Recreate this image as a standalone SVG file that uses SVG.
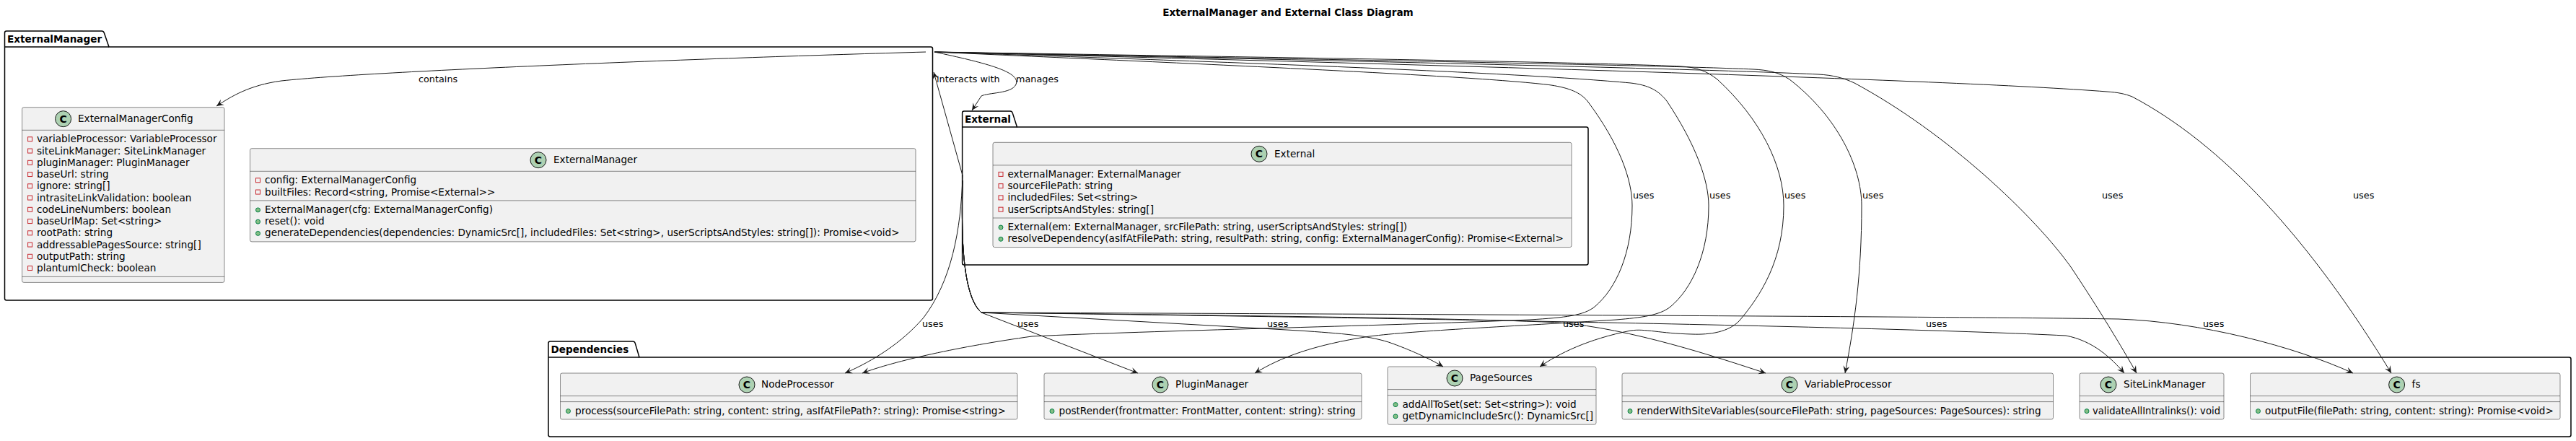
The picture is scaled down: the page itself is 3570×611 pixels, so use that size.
<svg xmlns="http://www.w3.org/2000/svg" width="3570" height="611" viewBox="0 0 3570 611">
<style>
text{font-family:"DejaVu Sans","Liberation Sans",sans-serif;fill:#000}
.t{font-size:13.6px}
.b{font-size:13.6px;font-weight:bold}
.lbl{font-size:12.8px}
.pkg{fill:none;stroke:#000;stroke-width:1.5}
.cls{fill:#F1F1F1;stroke:#181818;stroke-width:0.5}
.sep{stroke:#181818;stroke-width:0.5}
.ci{fill:#ADD1B2;stroke:#181818;stroke-width:1}
.cc{font-size:14px;font-weight:bold;text-anchor:middle}
.pv{fill:none;stroke:#C82930;stroke-width:1}
.pb{fill:#84BE84;stroke:#038048;stroke-width:1}
.e{fill:none;stroke:#181818;stroke-width:1;marker-end:url(#arr)}
</style>
<defs>
<marker id="arr" markerUnits="userSpaceOnUse" markerWidth="12" markerHeight="12" viewBox="-11 -6 12 12" refX="0" refY="0" orient="auto">
<path d="M0,0 L-10,-4.5 L-6,0 L-10,4.5 Z" fill="#181818"/>
</marker>
</defs>
<rect width="3570" height="611" fill="#FFFFFF"/>
<text class="b" x="1785" y="22" text-anchor="middle">ExternalManager and External Class Diagram</text>

<g id="pkg-ExternalManager">
<path class="pkg" d="M9,43 L141,43 Q143.5,43 144.3,45.4 L151,65 L1290,65 Q1292.5,65 1292.5,67.5 L1292.5,413.5 Q1292.5,416 1290,416 L9,416 Q6.5,416 6.5,413.5 L6.5,45.5 Q6.5,43 9,43 Z"/>
<line class="pkg" x1="6.5" y1="65" x2="151" y2="65"/>
<text class="b" x="10" y="58.5">ExternalManager</text>
</g>

<g id="pkg-External">
<path class="pkg" d="M1336,154 L1400,154 Q1402.5,154 1403.2,156.4 L1409.5,176 L2198.5,176 Q2201,176 2201,178.5 L2201,364.5 Q2201,367 2198.5,367 L1336,367 Q1333.6,367 1333.6,364.5 L1333.6,156.5 Q1333.6,154 1336,154 Z"/>
<line class="pkg" x1="1333.6" y1="176" x2="1409.5" y2="176"/>
<text class="b" x="1337" y="169.5">External</text>
</g>

<g id="pkg-Dependencies">
<path class="pkg" d="M762.5,473 L877,473 Q879.5,473 880.2,475.4 L886,495 L3560.5,495 Q3563,495 3563,497.5 L3563,602.5 Q3563,605 3560.5,605 L762.5,605 Q760,605 760,602.5 L760,475.5 Q760,473 762.5,473 Z"/>
<line class="pkg" x1="760" y1="495" x2="886" y2="495"/>
<text class="b" x="763.5" y="488.5">Dependencies</text>
</g>

<g id="ExternalManagerConfig">
<rect class="cls" x="30.6" y="148.7" width="280.4" height="242.7" rx="2.5"/>
<ellipse class="ci" cx="87.6" cy="164.7" rx="11" ry="11"/>
<text class="cc" x="87.6" y="169.7">C</text>
<text class="t" x="108" y="168.5">ExternalManagerConfig</text>
<line class="sep" x1="30.6" y1="180.3" x2="311" y2="180.3"/>
<rect class="pv" x="38.6" y="189.8" width="6" height="6"/><text class="t" x="51" y="197.3">variableProcessor: VariableProcessor</text>
<rect class="pv" x="38.6" y="206.05" width="6" height="6"/><text class="t" x="51" y="213.55">siteLinkManager: SiteLinkManager</text>
<rect class="pv" x="38.6" y="222.3" width="6" height="6"/><text class="t" x="51" y="229.8">pluginManager: PluginManager</text>
<rect class="pv" x="38.6" y="238.55" width="6" height="6"/><text class="t" x="51" y="246.05">baseUrl: string</text>
<rect class="pv" x="38.6" y="254.8" width="6" height="6"/><text class="t" x="51" y="262.3">ignore: string[]</text>
<rect class="pv" x="38.6" y="271.05" width="6" height="6"/><text class="t" x="51" y="278.55">intrasiteLinkValidation: boolean</text>
<rect class="pv" x="38.6" y="287.3" width="6" height="6"/><text class="t" x="51" y="294.8">codeLineNumbers: boolean</text>
<rect class="pv" x="38.6" y="303.55" width="6" height="6"/><text class="t" x="51" y="311.05">baseUrlMap: Set&lt;string&gt;</text>
<rect class="pv" x="38.6" y="319.8" width="6" height="6"/><text class="t" x="51" y="327.3">rootPath: string</text>
<rect class="pv" x="38.6" y="336.05" width="6" height="6"/><text class="t" x="51" y="343.55">addressablePagesSource: string[]</text>
<rect class="pv" x="38.6" y="352.3" width="6" height="6"/><text class="t" x="51" y="359.8">outputPath: string</text>
<rect class="pv" x="38.6" y="368.55" width="6" height="6"/><text class="t" x="51" y="376.05">plantumlCheck: boolean</text>
<line class="sep" x1="30.6" y1="383.4" x2="311" y2="383.4"/>
</g>

<g id="ExternalManager">
<rect class="cls" x="346.5" y="205.7" width="922.5" height="129.2" rx="2.5"/>
<ellipse class="ci" cx="746" cy="221.7" rx="11" ry="11"/>
<text class="cc" x="746" y="226.7">C</text>
<text class="t" x="767" y="225.5">ExternalManager</text>
<line class="sep" x1="346.5" y1="237.3" x2="1269" y2="237.3"/>
<rect class="pv" x="354.5" y="246.8" width="6" height="6"/><text class="t" x="367" y="254.3">config: ExternalManagerConfig</text>
<rect class="pv" x="354.5" y="263.05" width="6" height="6"/><text class="t" x="367" y="270.55">builtFiles: Record&lt;string, Promise&lt;External&gt;&gt;</text>
<line class="sep" x1="346.5" y1="277.9" x2="1269" y2="277.9"/>
<circle class="pb" cx="357.5" cy="290.9" r="3"/><text class="t" x="367" y="294.9">ExternalManager(cfg: ExternalManagerConfig)</text>
<circle class="pb" cx="357.5" cy="307.15" r="3"/><text class="t" x="367" y="311.15">reset(): void</text>
<circle class="pb" cx="357.5" cy="323.4" r="3"/><text class="t" x="367" y="327.4">generateDependencies(dependencies: DynamicSrc[], includedFiles: Set&lt;string&gt;, userScriptsAndStyles: string[]): Promise&lt;void&gt;</text>
</g>

<g id="External">
<rect class="cls" x="1376" y="197.3" width="802" height="145.3" rx="2.5"/>
<ellipse class="ci" cx="1745" cy="213.3" rx="11" ry="11"/>
<text class="cc" x="1745" y="218.3">C</text>
<text class="t" x="1766" y="217.5">External</text>
<line class="sep" x1="1376" y1="228.9" x2="2178" y2="228.9"/>
<rect class="pv" x="1384" y="238.4" width="6" height="6"/><text class="t" x="1396.5" y="245.9">externalManager: ExternalManager</text>
<rect class="pv" x="1384" y="254.65" width="6" height="6"/><text class="t" x="1396.5" y="262.15">sourceFilePath: string</text>
<rect class="pv" x="1384" y="270.9" width="6" height="6"/><text class="t" x="1396.5" y="278.4">includedFiles: Set&lt;string&gt;</text>
<rect class="pv" x="1384" y="287.15" width="6" height="6"/><text class="t" x="1396.5" y="294.65">userScriptsAndStyles: string[]</text>
<line class="sep" x1="1376" y1="302" x2="2178" y2="302"/>
<circle class="pb" cx="1387" cy="315" r="3"/><text class="t" x="1396.5" y="319">External(em: ExternalManager, srcFilePath: string, userScriptsAndStyles: string[])</text>
<circle class="pb" cx="1387" cy="331.25" r="3"/><text class="t" x="1396.5" y="335.25">resolveDependency(asIfAtFilePath: string, resultPath: string, config: ExternalManagerConfig): Promise&lt;External&gt;</text>
</g>

<g id="NodeProcessor">
<rect class="cls" x="776.5" y="517" width="633.5" height="64" rx="2.5"/>
<ellipse class="ci" cx="1035" cy="533" rx="11" ry="11"/>
<text class="cc" x="1035" y="538">C</text>
<text class="t" x="1055" y="537">NodeProcessor</text>
<line class="sep" x1="776.5" y1="548.6" x2="1410" y2="548.6"/>
<line class="sep" x1="776.5" y1="556.6" x2="1410" y2="556.6"/>
<circle class="pb" cx="787.5" cy="569.6" r="3"/><text class="t" x="797" y="573.6">process(sourceFilePath: string, content: string, asIfAtFilePath?: string): Promise&lt;string&gt;</text>
</g>

<g id="PluginManager">
<rect class="cls" x="1447" y="517" width="440" height="64" rx="2.5"/>
<ellipse class="ci" cx="1608" cy="533" rx="11" ry="11"/>
<text class="cc" x="1608" y="538">C</text>
<text class="t" x="1629" y="537">PluginManager</text>
<line class="sep" x1="1447" y1="548.6" x2="1887" y2="548.6"/>
<line class="sep" x1="1447" y1="556.6" x2="1887" y2="556.6"/>
<circle class="pb" cx="1458" cy="569.6" r="3"/><text class="t" x="1467.5" y="573.6">postRender(frontmatter: FrontMatter, content: string): string</text>
</g>

<g id="PageSources">
<rect class="cls" x="1923" y="508" width="289" height="80.2" rx="2.5"/>
<ellipse class="ci" cx="2016" cy="524" rx="11" ry="11"/>
<text class="cc" x="2016" y="529">C</text>
<text class="t" x="2037" y="528">PageSources</text>
<line class="sep" x1="1923" y1="539.6" x2="2212" y2="539.6"/>
<line class="sep" x1="1923" y1="547.6" x2="2212" y2="547.6"/>
<circle class="pb" cx="1934" cy="560.6" r="3"/><text class="t" x="1943.5" y="564.6">addAllToSet(set: Set&lt;string&gt;): void</text>
<circle class="pb" cx="1934" cy="576.85" r="3"/><text class="t" x="1943.5" y="580.85">getDynamicIncludeSrc(): DynamicSrc[]</text>
</g>

<g id="VariableProcessor">
<rect class="cls" x="2248" y="517" width="597.5" height="64" rx="2.5"/>
<ellipse class="ci" cx="2480" cy="533" rx="11" ry="11"/>
<text class="cc" x="2480" y="538">C</text>
<text class="t" x="2501" y="537">VariableProcessor</text>
<line class="sep" x1="2248" y1="548.6" x2="2845.5" y2="548.6"/>
<line class="sep" x1="2248" y1="556.6" x2="2845.5" y2="556.6"/>
<circle class="pb" cx="2259" cy="569.6" r="3"/><text class="t" x="2268.5" y="573.6">renderWithSiteVariables(sourceFilePath: string, pageSources: PageSources): string</text>
</g>

<g id="SiteLinkManager">
<rect class="cls" x="2882" y="517" width="200" height="64" rx="2.5"/>
<ellipse class="ci" cx="2922" cy="533" rx="11" ry="11"/>
<text class="cc" x="2922" y="538">C</text>
<text class="t" x="2943" y="537">SiteLinkManager</text>
<line class="sep" x1="2882" y1="548.6" x2="3082" y2="548.6"/>
<line class="sep" x1="2882" y1="556.6" x2="3082" y2="556.6"/>
<circle class="pb" cx="2892" cy="569.6" r="3"/><text class="t" x="2900" y="573.6" textLength="177" lengthAdjust="spacingAndGlyphs">validateAllIntralinks(): void</text>
</g>

<g id="fs">
<rect class="cls" x="3118.5" y="517" width="429.5" height="64" rx="2.5"/>
<ellipse class="ci" cx="3321.6" cy="533" rx="11" ry="11"/>
<text class="cc" x="3321.6" y="538">C</text>
<text class="t" x="3342.6" y="537">fs</text>
<line class="sep" x1="3118.5" y1="548.6" x2="3548" y2="548.6"/>
<line class="sep" x1="3118.5" y1="556.6" x2="3548" y2="556.6"/>
<circle class="pb" cx="3129.5" cy="569.6" r="3"/><text class="t" x="3139" y="573.6">outputFile(filePath: string, content: string): Promise&lt;void&gt;</text>
</g>

<g id="connectors">
<path class="e" d="M1283,72 C1000,80 520,98 390,112 C345,118 320,134 300,147"/>
<path class="e" d="M1295,72 C1370,88 1415,100 1408,117 C1402,130 1370,128 1360,133 L1347,153"/>
<path class="e" d="M1334,243 L1294,100"/>

<path class="e" d="M1295,72 C1650,88 2050,105 2150,118 C2175,122 2190,128 2200,140 C2245,200 2262,250 2262,285 C2262,350 2240,400 2210,425 C2195,437 2170,440 2120,443 C1900,452 1600,458 1430,466 C1330,480 1240,500 1195,517"/>
<path class="e" d="M1295,72 C1700,86 2100,100 2260,115 C2285,118 2298,125 2310,140 C2350,200 2368,250 2368,285 C2368,350 2345,400 2315,425 C2300,437 2275,440 2240,443 C2100,452 1960,458 1898,466 C1820,478 1775,495 1739,517"/>
<path class="e" d="M1295,72 C1800,80 2200,86 2330,92 C2350,93 2365,98 2380,110 C2440,165 2472,230 2472,285 C2472,360 2440,410 2410,445 C2395,460 2370,464 2345,463 C2300,462 2280,455 2260,458 C2200,470 2160,490 2134,508"/>
<path class="e" d="M1295,72 C1800,82 2300,90 2430,96 C2450,97 2465,100 2480,110 C2545,160 2580,230 2580,285 C2580,380 2570,450 2557,517"/>
<path class="e" d="M1295,72 C1900,85 2350,95 2520,103 C2540,104 2555,108 2570,115 C2700,185 2820,300 2870,370 C2910,430 2940,480 2961,517"/>
<path class="e" d="M1295,72 C2000,90 2700,110 2920,127 C2935,128 2945,130 2955,134 C3080,200 3200,330 3314,517"/>

<path class="e" d="M1334,243 C1332,320 1318,390 1280,440 C1250,475 1210,500 1171,517"/>
<path class="e" d="M1334,250 C1332,330 1334,410 1360,433 L1577,517"/>
<path class="e" d="M1334,250 C1332,330 1334,410 1360,433 L1800,458 C1860,462 1900,465 1930,476 C1960,487 1985,499 2000,508"/>
<path class="e" d="M1334,250 C1332,330 1334,410 1360,433 C1700,437 2050,441 2160,447 C2260,455 2380,495 2447,517"/>
<path class="e" d="M1334,250 C1332,330 1334,410 1360,433 C1900,440 2600,452 2863,465 C2900,472 2925,495 2944,517"/>
<path class="e" d="M1334,250 C1332,330 1334,410 1360,433 C2100,436 2750,439 2936,442 C3050,446 3180,480 3261,517"/>

<text class="lbl" x="580" y="114">contains</text>
<text class="lbl" x="1298" y="114">interacts with</text>
<text class="lbl" x="1408" y="114">manages</text>
<text class="lbl" x="2263" y="275">uses</text>
<text class="lbl" x="2369" y="275">uses</text>
<text class="lbl" x="2473" y="275">uses</text>
<text class="lbl" x="2581" y="275">uses</text>
<text class="lbl" x="2913" y="275">uses</text>
<text class="lbl" x="3261" y="275">uses</text>
<text class="lbl" x="1278" y="453">uses</text>
<text class="lbl" x="1410" y="453">uses</text>
<text class="lbl" x="1756" y="453">uses</text>
<text class="lbl" x="2166" y="453">uses</text>
<text class="lbl" x="2669" y="453">uses</text>
<text class="lbl" x="3053" y="453">uses</text>
</g>
</svg>
